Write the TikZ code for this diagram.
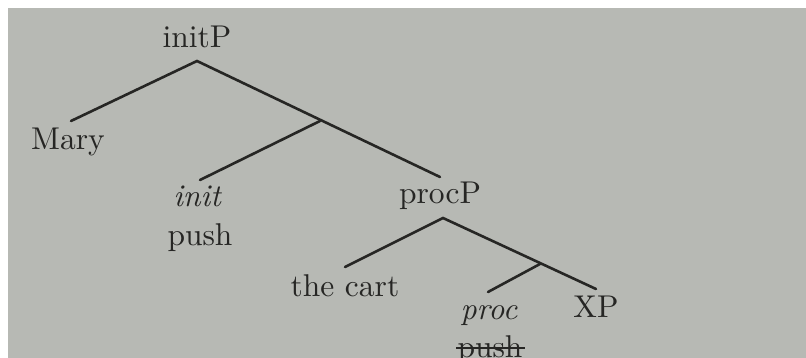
\documentclass[tikz,border=0pt]{standalone}
\definecolor{paper}{RGB}{183,185,180}
\definecolor{ink}{RGB}{38,38,36}
\begin{document}
\begin{tikzpicture}[x=1pt,y=-1pt,
  lbl/.style={anchor=base, inner sep=0pt, scale=3.15, text=ink},
  br/.style={draw=ink, line width=2.6pt, line cap=round}]
\useasboundingbox (0,0) rectangle (806,358);
\clip (0,0) rectangle (806,358);
\fill[white] (0,0) rectangle (806,358);
\fill[paper] (8,8) rectangle (806,358);
% labels
\node[lbl] (initP) at (197,48) {initP};
\node[lbl] (mary) at (68,150) {Mary};
\node[lbl] (init) at (197,207) {\itshape init};
\node[lbl] (push1) at (200,246) {push};
\node[lbl] (procP) at (440,204) {procP};
\node[lbl] (cart) at (345,296) {the cart};
\node[lbl] (proc) at (489,319) {\itshape proc};
\node[lbl] (xp) at (596,317) {XP};
\node[lbl] (push2) at (490,357) {push};
% branch points
\coordinate (a0) at (197,61);
\coordinate (m1) at (71,121);
\coordinate (b1) at (320,121);
\coordinate (i1) at (200,180);
\coordinate (p1) at (440,177);
\coordinate (a1) at (443,218);
\coordinate (c1) at (345,267);
\coordinate (b2) at (540,264);
\coordinate (x1) at (596,289);
\coordinate (q1) at (488,292);
\coordinate (s1) at (456,348);
\coordinate (s2) at (525,348);
% branches
\draw[br] (m1) -- (a0) -- (p1);
\draw[br] (b1) -- (i1);
\draw[br] (c1) -- (a1) -- (x1);
\draw[br] (b2) -- (q1);
\draw[draw=ink, line width=1.6pt] (s1) -- (s2);
\end{tikzpicture}
\end{document}
